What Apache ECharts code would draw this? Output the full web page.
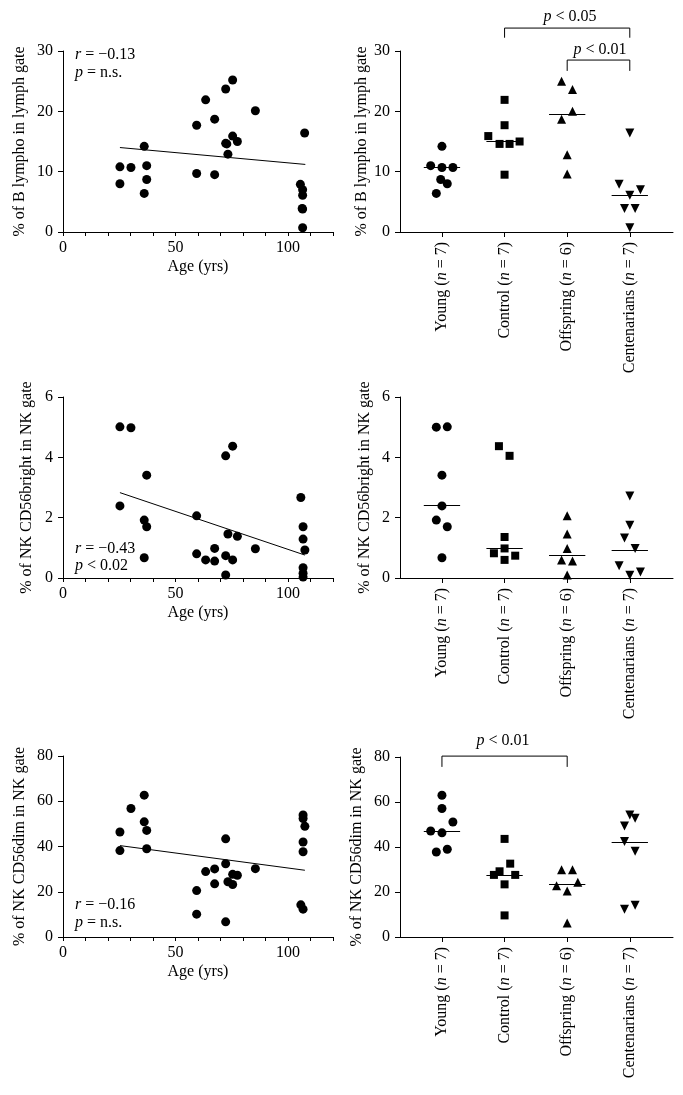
<!DOCTYPE html>
<html>
<head>
<meta charset="utf-8">
<script src="https://cdn.jsdelivr.net/npm/echarts@6/dist/echarts.min.js"></script>
<style>
  html, body { margin: 0; padding: 0; background: #fff; }
  #chart { width: 683px; height: 1095px; }
</style>
</head>
<body>
<div id="chart"></div>
<script>
// groups shown on the dot plots
var categories = ['Young', 'Control', 'Offspring', 'Centenarians'];
var groupN = [7, 7, 6, 7];

// --- B lymphocytes (% of lymph gate) ---
var bAge = [25.3, 25.3, 30.2, 36.1, 37.2, 37.2, 36.1,
            59.4, 59.4, 63.4, 67.4, 67.4, 72.3, 75.4, 72.3, 75.4, 77.5, 73.3, 85.5, 72.8,
            107.4, 105.5, 106.5, 106.5, 106.5, 106.3, 106.5];
var bVal = [10.8, 8.0, 10.7, 14.2, 11.0, 8.7, 6.4,
            17.7, 9.7, 21.9, 18.7, 9.5, 23.7, 25.2, 14.7, 15.9, 15.0, 12.9, 20.1, 14.6,
            16.4, 7.9, 7.0, 6.1, 3.8, 3.9, 0.7];
var bReg = [[25.3, 14.0], [107.7, 11.2]];
var bGroups = [
  [14.2, 11.0, 10.7, 10.7, 8.7, 8.0, 6.4],
  [15.9, 21.9, 17.7, 14.6, 14.6, 15.0, 9.5],
  [25.0, 23.6, 18.7, 20.0, 12.8, 9.6],
  [16.4, 7.9, 7.0, 6.1, 3.9, 3.9, 0.7]
];
var bJitter = [
  [0, -0.18, 0, 0.175, -0.02, 0.085, -0.09],
  [-0.26, 0, 0, -0.08, 0.08, 0.24, 0],
  [-0.09, 0.085, -0.09, 0.085, 0, 0],
  [0, -0.17, 0.17, 0, -0.085, 0.085, 0]
];
var bMedian = [10.7, 15.0, 19.5, 6.1];

// --- NK CD56bright (% of NK gate) ---
var brAge = [25.3, 30.2, 37.2, 25.3, 36.1, 37.2, 36.1,
             59.4, 59.4, 63.4, 67.4, 67.4, 72.3, 75.4, 73.3, 77.5, 72.3, 75.4, 72.3, 85.5,
             105.7, 106.7, 106.7, 107.5, 106.7, 106.7, 106.7];
var brVal = [5.01, 4.98, 3.41, 2.39, 1.92, 1.70, 0.67,
             2.06, 0.80, 0.60, 0.98, 0.56, 4.05, 4.37, 1.46, 1.38, 0.74, 0.60, 0.10, 0.97,
             2.67, 1.70, 1.29, 0.93, 0.34, 0.16, 0.03];
var brReg = [[25.3, 2.83], [107.5, 0.76]];
var brGroups = [
  [5.0, 5.01, 3.41, 2.39, 1.92, 1.70, 0.67],
  [4.37, 4.05, 1.36, 0.98, 0.82, 0.60, 0.74],
  [2.06, 1.46, 0.98, 0.60, 0.56, 0.10],
  [2.72, 1.75, 1.33, 0.98, 0.41, 0.09, 0.20]
];
var brJitter = [
  [-0.09, 0.085, 0, 0, -0.09, 0.085, 0],
  [-0.09, 0.08, 0, 0, -0.17, 0, 0.17],
  [0, 0, 0, -0.09, 0.085, 0],
  [0, 0, -0.085, 0.085, -0.17, 0, 0.17]
];
var brMedian = [2.4, 0.98, 0.77, 0.93];

// --- NK CD56dim (% of NK gate) ---
var dmAge = [25.3, 25.3, 30.2, 36.1, 36.1, 37.2, 37.2,
             59.4, 59.4, 63.4, 67.4, 67.4, 72.3, 72.3, 72.3, 73.3, 75.4, 75.4, 77.5, 85.5,
             106.7, 106.7, 107.5, 106.7, 106.7, 105.7, 106.7];
var dmVal = [46.4, 38.2, 56.8, 62.7, 50.9, 47.1, 39.0,
             20.5, 10.1, 28.9, 30.1, 23.5, 43.4, 32.4, 6.7, 24.4, 27.7, 23.2, 27.3, 30.2,
             53.9, 52.4, 48.9, 42.0, 37.7, 14.2, 12.3];
var dmReg = [[25.3, 40.4], [107.5, 29.5]];
var dmGroups = [
  [63.0, 57.1, 51.1, 47.1, 46.3, 37.8, 39.0],
  [43.6, 32.6, 29.2, 27.6, 27.6, 23.4, 9.6],
  [29.9, 29.9, 22.8, 20.4, 24.3, 6.2],
  [54.2, 52.8, 49.3, 42.5, 38.1, 12.3, 14.1]
];
var dmJitter = [
  [0, 0, 0.175, -0.18, 0, -0.09, 0.085],
  [0, 0.09, -0.08, -0.17, 0.17, 0, 0],
  [-0.09, 0.085, -0.17, 0, 0.17, 0],
  [0, 0.085, -0.085, -0.085, 0.085, -0.085, 0.085]
];
var dmMedian = [47.1, 27.6, 23.6, 42.2];

// significance brackets: [from group, to group, foot value, top value]
var bBrackets = [[2, 4, 32.2, 33.8], [3, 4, 26.7, 28.5]];
var dmBrackets = [[1, 3, 75.6, 80.4]];

var FONT = 'Liberation Serif';
var black = '#000';
var symbols = ['circle', 'rect', 'triangle', 'triangle'];
var rotations = [0, 0, 0, 180];
var sizes = [9, 8, 9, 9];

var chart = echarts.init(document.getElementById('chart'));

var grids = [
  {left: 63, top: 51, width: 270, height: 181},
  {left: 400, top: 51, width: 273, height: 181},
  {left: 63, top: 397, width: 270, height: 181},
  {left: 400, top: 397, width: 273, height: 181},
  {left: 63, top: 756, width: 270, height: 181},
  {left: 400, top: 757, width: 273, height: 180}
];

var lineStyle = {color: black, width: 1};

function ageAxis(i) {
  return {
    type: 'value', gridIndex: i, min: 0, max: 120, interval: 10,
    name: 'Age (yrs)', nameLocation: 'middle', nameGap: 27,
    nameTextStyle: {fontFamily: FONT, fontSize: 16, color: black},
    axisLine: {lineStyle: lineStyle},
    axisTick: {length: 4, lineStyle: lineStyle},
    axisLabel: {
      fontFamily: FONT, fontSize: 16, color: black, margin: 8,
      formatter: function (v) { return v % 50 === 0 ? v : ''; }
    },
    splitLine: {show: false}
  };
}

function groupAxis(i) {
  return {
    type: 'value', gridIndex: i, min: 0.33, max: 4.69,
    axisLine: {lineStyle: lineStyle},
    axisTick: {length: 5, lineStyle: lineStyle, customValues: [1, 2, 3, 4]},
    axisLabel: {
      customValues: [1, 2, 3, 4], rotate: 90, margin: 10,
      formatter: function (v) {
        var k = Math.round(v) - 1;
        return '{t|' + categories[k] + ' (}{i|n}{t| = ' + groupN[k] + ')}';
      },
      rich: {
        t: {fontFamily: FONT, fontSize: 16, color: black},
        i: {fontFamily: FONT, fontSize: 16, color: black, fontStyle: 'italic'}
      }
    },
    splitLine: {show: false}
  };
}

function valAxis(i, max, interval, name, gap) {
  return {
    type: 'value', gridIndex: i, min: 0, max: max, interval: interval,
    name: name, nameLocation: 'middle', nameGap: gap,
    nameTextStyle: {fontFamily: FONT, fontSize: 16, color: black},
    axisLine: {show: true, lineStyle: lineStyle},
    axisTick: {show: true, length: 5, lineStyle: lineStyle},
    axisLabel: {fontFamily: FONT, fontSize: 16, color: black, margin: 10},
    splitLine: {show: false}
  };
}

var series = [];

function agePanel(i, ages, vals, reg) {
  series.push({
    type: 'scatter', xAxisIndex: i, yAxisIndex: i, symbolSize: 9,
    itemStyle: {color: black, opacity: 1},
    data: ages.map(function (a, k) { return [a, vals[k]]; })
  });
  series.push({
    type: 'line', xAxisIndex: i, yAxisIndex: i, symbol: 'none', silent: true,
    lineStyle: lineStyle, data: reg
  });
}

function dotPanel(i, groups, jitter, medians, brackets) {
  groups.forEach(function (vals, g) {
    series.push({
      type: 'scatter', xAxisIndex: i, yAxisIndex: i,
      symbol: symbols[g], symbolRotate: rotations[g],
      symbolSize: sizes[g],
      itemStyle: {color: black, opacity: 1},
      data: vals.map(function (v, k) { return [g + 1 + jitter[g][k], v]; }),
      markLine: {
        silent: true, symbol: ['none', 'none'], label: {show: false},
        lineStyle: {color: black, width: 1, type: 'solid'},
        data: [[{coord: [g + 1 - 0.29, medians[g]]}, {coord: [g + 1 + 0.29, medians[g]]}]]
      }
    });
  });
  (brackets || []).forEach(function (b) {
    series.push({
      type: 'line', xAxisIndex: i, yAxisIndex: i, symbol: 'none', silent: true,
      clip: false, lineStyle: lineStyle,
      data: [[b[0], b[2]], [b[0], b[3]], [b[1], b[3]], [b[1], b[2]]]
    });
  });
}

agePanel(0, bAge, bVal, bReg);
dotPanel(1, bGroups, bJitter, bMedian, bBrackets);
agePanel(2, brAge, brVal, brReg);
dotPanel(3, brGroups, brJitter, brMedian);
agePanel(4, dmAge, dmVal, dmReg);
dotPanel(5, dmGroups, dmJitter, dmMedian, dmBrackets);

var richI = {i: {fontFamily: FONT, fontSize: 16, fontStyle: 'italic', fill: black}};
function note(x, y, text, align) {
  return {
    type: 'text', x: x, y: y, silent: true,
    style: {
      text: text, rich: richI, fontFamily: FONT, fontSize: 16, fill: black,
      align: align || 'left', verticalAlign: 'middle'
    }
  };
}

var option = {
  backgroundColor: '#fff',
  animation: false,
  grid: grids,
  xAxis: [ageAxis(0), groupAxis(1), ageAxis(2), groupAxis(3), ageAxis(4), groupAxis(5)],
  yAxis: [
    valAxis(0, 30, 10, '% of B lympho in lymph gate', 35),
    valAxis(1, 30, 10, '% of B lympho in lymph gate', 28),
    valAxis(2, 6, 2, '% of NK CD56bright in NK gate', 28),
    valAxis(3, 6, 2, '% of NK CD56bright in NK gate', 27),
    valAxis(4, 80, 20, '% of NK CD56dim in NK gate', 35),
    valAxis(5, 80, 20, '% of NK CD56dim in NK gate', 35)
  ],
  series: series,
  graphic: [
    note(75, 55, '{i|r} = \u22120.13'),
    note(75, 73, '{i|p} = n.s.'),
    note(75, 549, '{i|r} = \u22120.43'),
    note(75, 566, '{i|p} < 0.02'),
    note(75, 905, '{i|r} = \u22120.16'),
    note(75, 923, '{i|p} = n.s.'),
    note(570, 17, '{i|p} < 0.05', 'center'),
    note(600, 50, '{i|p} < 0.01', 'center'),
    note(503, 741, '{i|p} < 0.01', 'center')
  ]
};

chart.setOption(option);
</script>
</body>
</html>
